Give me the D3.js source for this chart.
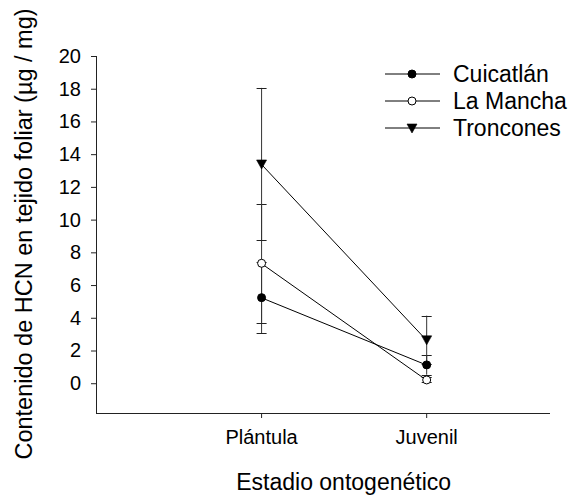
<!DOCTYPE html>
<html>
<head>
<meta charset="utf-8">
<script src="https://cdn.jsdelivr.net/npm/d3@7"></script>
<style>
  body { margin: 0; background: #fff; }
  svg { display: block; font-family: "Liberation Sans", Arial, sans-serif; }
</style>
</head>
<body>
<svg id="chart" width="581" height="497"></svg>
<script>
// Ontogenetic stages
const stages = ["Plántula", "Juvenil"];
// Mean HCN content (µg / mg) per population
const cuicatlan = [5.23, 1.12];
const laMancha  = [7.33, 0.2];
const troncones = [13.4, 2.65];
// Standard errors
const cuicatlanErr = [2.18, 0.6];
const laManchaErr  = [3.63, 0.15];
const tronconesErr = [4.65, 1.48];
// Y tick values
const yTicks = [0, 2, 4, 6, 8, 10, 12, 14, 16, 18, 20];

const series = [
  { name: "Cuicatlán", values: cuicatlan, err: cuicatlanErr, symbol: "filledCircle" },
  { name: "La Mancha", values: laMancha, err: laManchaErr, symbol: "openCircle" },
  { name: "Troncones", values: troncones, err: tronconesErr, symbol: "triangle" }
];

const svg = d3.select("#chart");
const plotLeft = 96, plotRight = 550, plotTop = 56, plotBottom = 413;

// Stage positions on a continuous axis (stage i at i + 1)
const x = d3.scaleLinear().domain([0, 2.75]).range([plotLeft, plotRight]);
const y = d3.scaleLinear().domain([-1.82, 20]).range([plotBottom, plotTop]);

// Axes
const yAxis = d3.axisLeft(y).tickValues(yTicks).tickSize(5).tickPadding(10).tickFormat(d3.format("d"));
const xAxis = d3.axisBottom(x).tickValues([1, 2]).tickSize(5).tickPadding(12)
  .tickFormat(d => stages[d - 1]);

const gy = svg.append("g").attr("transform", `translate(${plotLeft},0)`).call(yAxis);
gy.select(".domain").attr("d", `M0.5,${plotTop}V${plotBottom}`);
const gx = svg.append("g").attr("transform", `translate(0,${plotBottom})`).call(xAxis);
gx.select(".domain").attr("d", `M${plotLeft},0.5H${plotRight}`);

[gy, gx].forEach(g => {
  g.selectAll(".domain").attr("stroke", "#222").attr("stroke-width", 1);
  g.selectAll(".tick line").attr("stroke", "#222");
  g.selectAll(".tick text").attr("font-size", 20).attr("fill", "#000")
    .attr("font-family", "'Liberation Sans', Arial, sans-serif");
});

// Axis titles
svg.append("text")
  .attr("x", (x(1) + x(2)) / 2).attr("y", 490)
  .attr("text-anchor", "middle").attr("font-size", 23)
  .text("Estadio ontogenético");
svg.append("text")
  .attr("transform", `translate(32,234) rotate(-90)`)
  .attr("text-anchor", "middle").attr("font-size", 23.5)
  .text("Contenido de HCN en tejido foliar (µg / mg)");

// Symbol drawing
function drawSymbol(g, type, cx, cy) {
  if (type === "triangle") {
    g.append("path")
      .attr("d", `M${cx - 5},${cy - 4}L${cx + 5},${cy - 4}L${cx},${cy + 5}Z`)
      .attr("fill", "#000").attr("stroke", "#000").attr("stroke-width", 0.6);
  } else {
    g.append("circle").attr("cx", cx).attr("cy", cy).attr("r", 4)
      .attr("fill", type === "openCircle" ? "#fff" : "#000")
      .attr("stroke", "#000").attr("stroke-width", 1);
  }
}

const plot = svg.append("g");
const line = d3.line().x((d, i) => x(i + 1)).y(d => y(d));

// Error bars
series.forEach(s => {
  s.values.forEach((v, i) => {
    const cx = x(i + 1) + 0.5;
    const lo = y(v - s.err[i]), hi = y(v + s.err[i]);
    plot.append("line").attr("x1", cx).attr("x2", cx).attr("y1", lo).attr("y2", hi)
      .attr("stroke", "#333").attr("stroke-width", 1);
    [lo, hi].forEach(yy => {
      plot.append("line").attr("x1", cx - 5).attr("x2", cx + 5)
        .attr("y1", Math.round(yy) + 0.5).attr("y2", Math.round(yy) + 0.5)
        .attr("stroke", "#222").attr("stroke-width", 1);
    });
  });
});

// Lines
series.forEach(s => {
  plot.append("path").datum(s.values).attr("d", line)
    .attr("fill", "none").attr("stroke", "#000").attr("stroke-width", 1);
});

// Markers
series.forEach(s => {
  s.values.forEach((v, i) => drawSymbol(plot, s.symbol, x(i + 1) + 0.5, y(v)));
});

// Legend
const legend = svg.append("g");
series.forEach((s, i) => {
  const ly = 74 + i * 27;
  legend.append("line").attr("x1", 385).attr("x2", 440).attr("y1", ly).attr("y2", ly)
    .attr("stroke", "#000").attr("stroke-width", 1);
  drawSymbol(legend, s.symbol, 412, ly);
  legend.append("text").attr("x", 453).attr("y", ly).attr("dy", "0.35em")
    .attr("font-size", 23).text(s.name);
});
</script>
</body>
</html>
